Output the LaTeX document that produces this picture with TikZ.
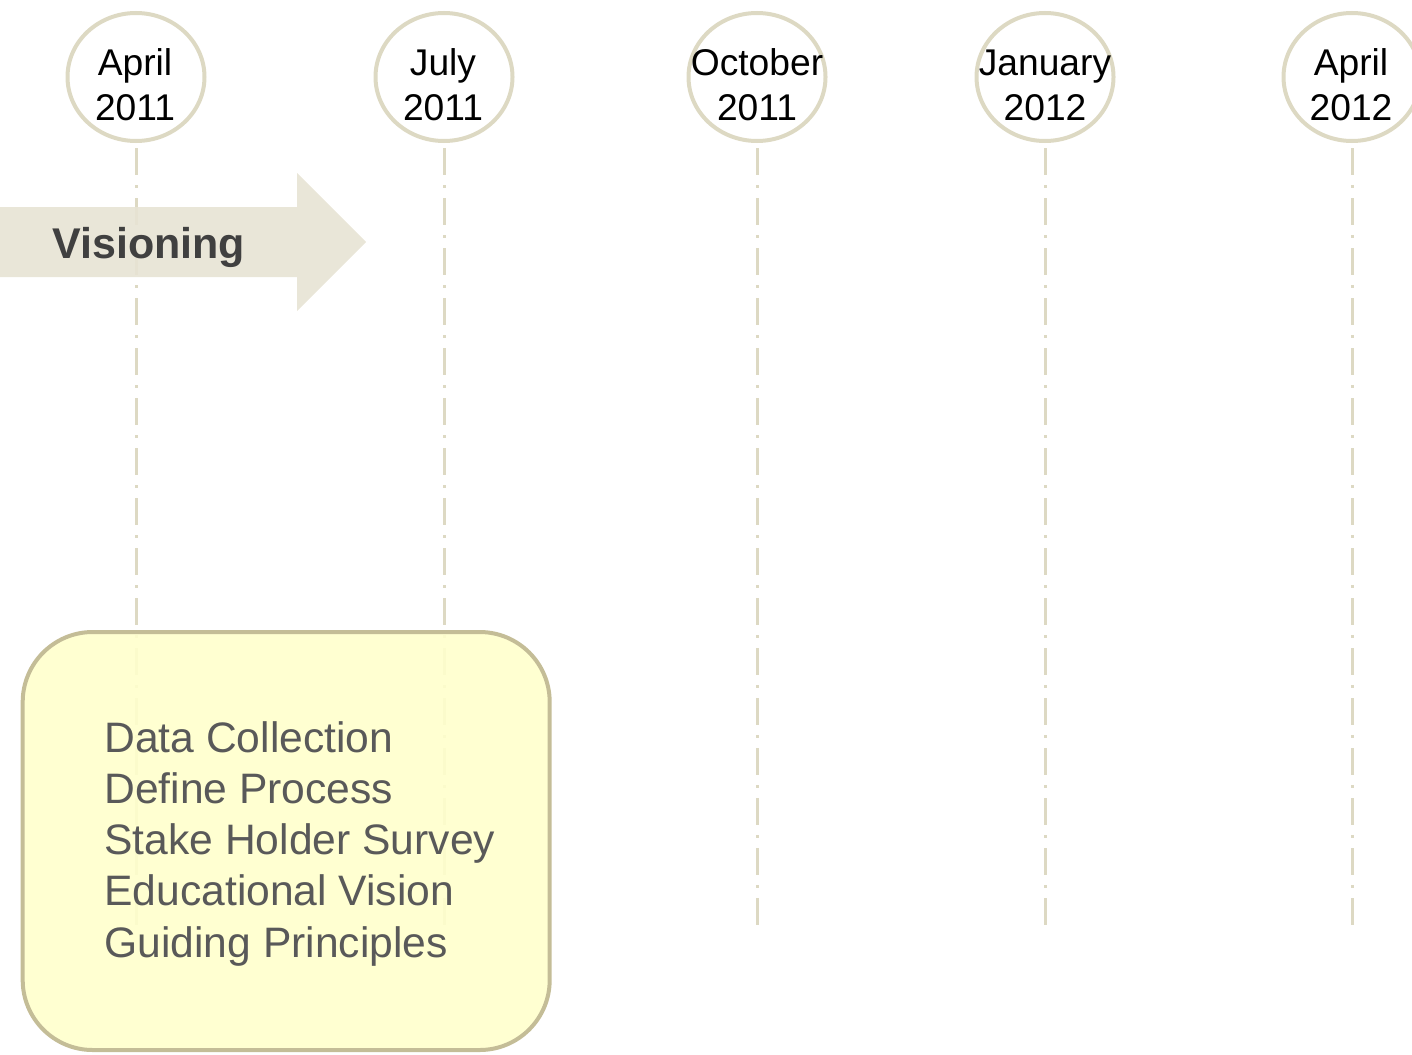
\documentclass[tikz,border=0pt]{standalone}
\usepackage{fontspec}
\setmainfont{Liberation Sans}
\usetikzlibrary{shapes.geometric}
\definecolor{tline}{HTML}{DDD9C3}
\definecolor{arrowfill}{HTML}{E7E3D4}
\definecolor{boxfill}{HTML}{FFFFCC}
\definecolor{boxdraw}{HTML}{C4BD97}
\definecolor{boxtext}{HTML}{595959}
\definecolor{vistext}{HTML}{404040}
\begin{document}
\begin{tikzpicture}[x=0.5pt,y=-0.5pt,
  datecirc/.style={ellipse, draw=tline, line width=2pt, fill=white,
    minimum width=68.5pt, minimum height=64pt, inner sep=0pt, outer sep=0pt},
  datetext/.style={align=center, font=\fontsize{18.6}{22.5}\selectfont,
    text=black, inner sep=0pt},
  timeline/.style={draw=tline, line width=1.5pt,
    dash pattern=on 13.5pt off 5pt on 1.5pt off 5pt, shorten <=3.5pt},
  phasebox/.style={draw=boxdraw, line width=2pt, fill=boxfill, fill opacity=0.9,
    rounded corners=35pt, minimum width=263.5pt, minimum height=209pt,
    inner sep=0pt, outer sep=0pt},
  itemtext/.style={anchor=north west, inner sep=0pt, align=left, text=boxtext,
    font=\fontsize{21.3}{25.6}\selectfont},
  phasetext/.style={anchor=base west, inner sep=0pt, text=vistext,
    font=\bfseries\fontsize{21.5}{26}\selectfont}
]
\useasboundingbox (0,0) rectangle (1412,1054);
\clip (0,0) rectangle (1412,1054);

% date circles
\node[datecirc] (d1) at (136,77) {};
\node[datecirc] (d2) at (444,77) {};
\node[datecirc] (d3) at (757,77) {};
\node[datecirc] (d4) at (1045,77) {};
\node[datecirc] (d5) at (1352,77) {};

\node[datetext] (t1) at (135,85) {April\\2011};
\node[datetext] (t2) at (443,85) {July\\2011};
\node[datetext] (t3) at (757,85) {October\\2011};
\node[datetext] (t4) at (1045,85) {January\\2012};
\node[datetext] (t5) at (1351,85) {April\\2012};

% timeline ends
\coordinate (e1) at (136,925);
\coordinate (e2) at (444,925);
\coordinate (e3) at (757,925);
\coordinate (e4) at (1045,925);
\coordinate (e5) at (1352,925);

\draw[timeline] (d1.south) -- (e1);
\draw[timeline] (d2.south) -- (e2);
\draw[timeline] (d3.south) -- (e3);
\draw[timeline] (d4.south) -- (e4);
\draw[timeline] (d5.south) -- (e5);

% phase arrow
\fill[arrowfill, fill opacity=0.9] (-5,207) -- (297,207) -- (297,173) -- (366,242)
  -- (297,311) -- (297,277) -- (-5,277) -- cycle;
\node[phasetext] (vis) at (52,258) {Visioning};

% activity box
\node[phasebox] (box) at (286.2,841) {};
\node[itemtext] (items) at (104,721) {Data Collection\\Define Process\\Stake Holder Survey\\Educational Vision\\Guiding Principles};
\end{tikzpicture}
\end{document}
